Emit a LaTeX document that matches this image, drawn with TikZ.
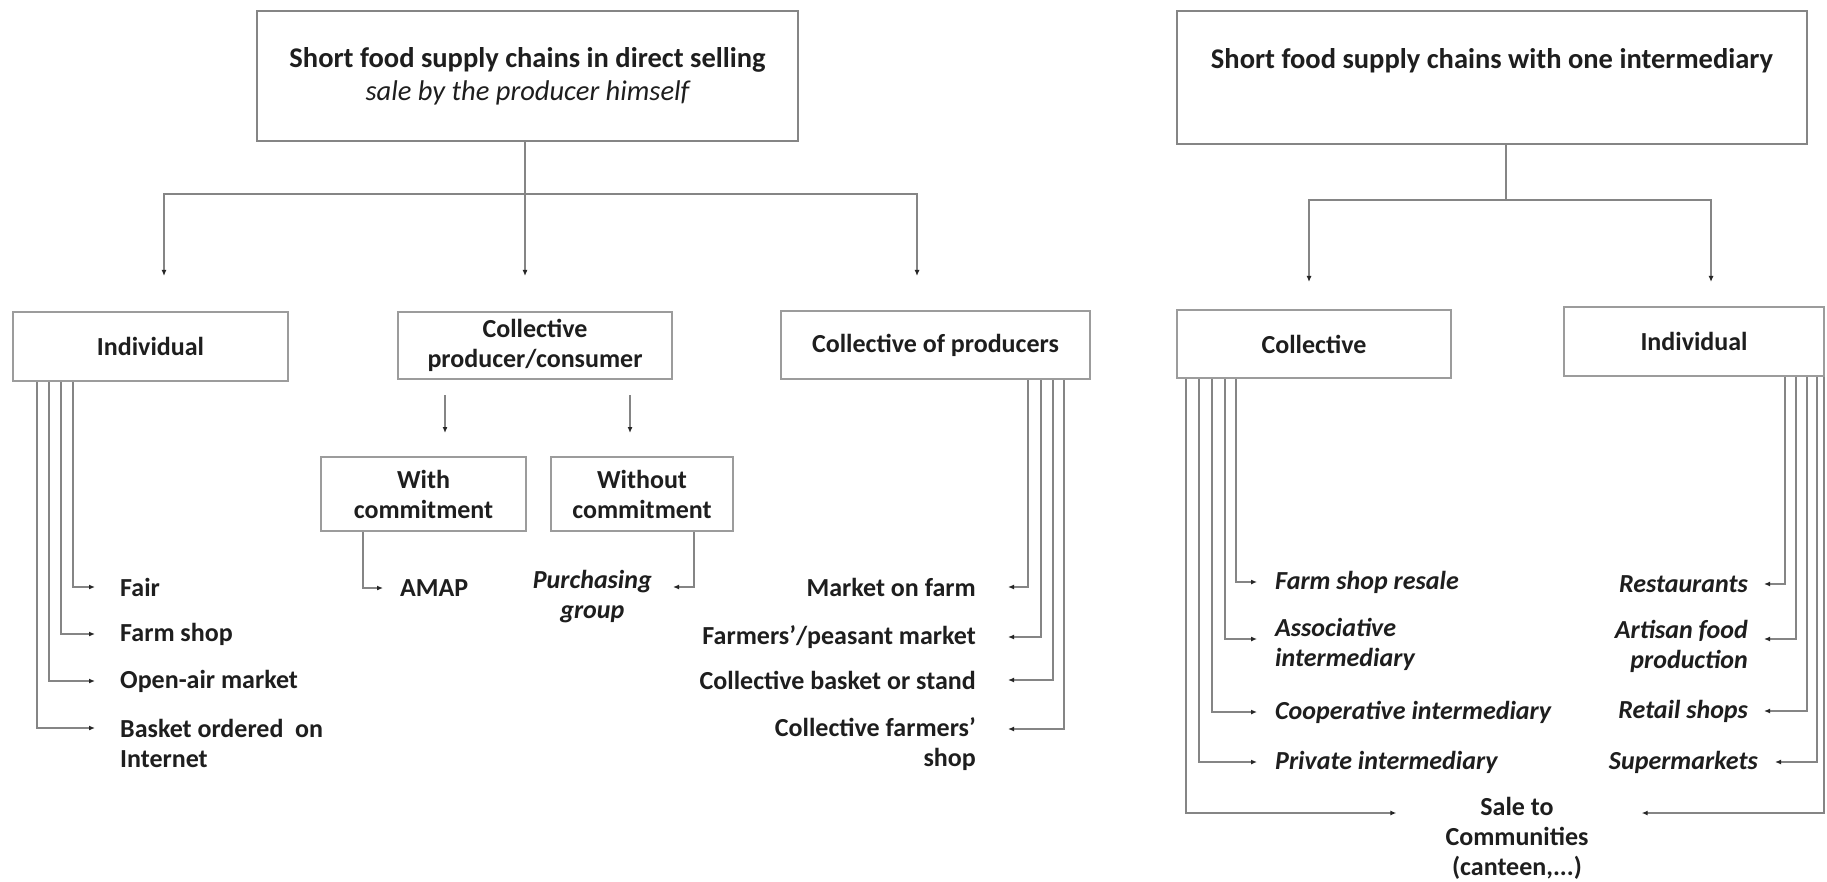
\documentclass[tikz,border=0pt]{standalone}
\usepackage{fontspec}
\setmainfont{Carlito}
\usetikzlibrary{arrows.meta}

\definecolor{ink}{HTML}{1E1E1E}
\definecolor{boxline}{HTML}{9C9C9C}
\definecolor{headline}{HTML}{858585}
\definecolor{wirecol}{HTML}{858585}

\tikzset{
  every node/.style={text=ink, font=\bfseries\fontsize{26}{30}\selectfont},
  box/.style={draw=boxline, line width=2.2pt, inner sep=0pt, align=center},
  headbox/.style={draw=headline, line width=2.4pt, inner sep=0pt, align=center,
    font=\bfseries\fontsize{28.5}{33}\selectfont},
  wire/.style={draw=wirecol, line width=2pt},
  arr/.style={wire, -{Latex[length=6pt,width=5pt,color=black!85]}},
  item/.style={inner sep=0pt},
  itemL/.style={item, anchor=west, align=left},
  itemR/.style={item, anchor=east, align=right},
  itlabel/.style={font=\bfseries\itshape\fontsize{26}{30}\selectfont},
}

\begin{document}
\begin{tikzpicture}[x=1pt,y=-1pt]
\fill[white] (0,0) rectangle (1827,882);
\useasboundingbox (0,0) rectangle (1827,882);

% ---------------- direct selling ----------------
\node[headbox, minimum width=541pt, minimum height=130pt] (T1) at (527.5,76)
  {Short food supply chains in direct selling\\{\mdseries\itshape sale by the producer himself}};

\node[box, minimum width=275pt, minimum height=69pt] (L1) at (150.5,346.5) {Individual};
\node[box, minimum width=274pt, minimum height=67pt] (L2) at (535,345.5) {Collective\\producer/consumer};
\node[box, minimum width=309pt, minimum height=68pt] (L3) at (935.5,345) {Collective of producers};
\node[box, minimum width=205pt, minimum height=74pt] (W1) at (423.5,494) {With\\commitment};
\node[box, minimum width=182pt, minimum height=74pt] (W2) at (642,494) {Without\\commitment};

\coordinate (j1) at (525,194);
\coordinate (d1) at (164,276);
\coordinate (d2) at (525,276);
\coordinate (d3) at (917,276);
\draw[wire] (T1.south -| j1) -- (j1);
\draw[arr] (j1) -| (d1);
\draw[arr] (j1) -- (d2);
\draw[arr] (j1) -| (d3);

\coordinate (s1) at (445,395); \coordinate (s1e) at (445,433);
\coordinate (s2) at (630,395); \coordinate (s2e) at (630,433);
\draw[arr] (s1) -- (s1e);
\draw[arr] (s2) -- (s2e);

% individual sales
\node[itemL] (fair)   at (120,587) {Fair};
\node[itemL] (fshop)  at (120,634) {Farm shop};
\node[itemL] (open)   at (120,681) {Open-air market};
\node[itemL] (basket) at (120,743) {Basket ordered\ \ on\\Internet};
\draw[arr] ([xshift=61pt]L1.south west) |- ([xshift=-25pt]fair.west);
\draw[arr] ([xshift=49pt]L1.south west) |- ([xshift=-25pt]fshop.west);
\draw[arr] ([xshift=37pt]L1.south west) |- ([xshift=-25pt]open.west);
\draw[arr] ([xshift=25pt]L1.south west) |- ([xshift=-25pt,yshift=15pt]basket.west);

% producer/consumer groups
\node[itemL] (amap) at (400,588) {AMAP};
\node[item, anchor=east, align=center, itlabel] (purch) at (652,597) {Purchasing\\group};
\draw[arr] ([xshift=-60.5pt]W1.south) |- ([xshift=-17pt]amap.west);
\draw[arr] ([xshift=52pt]W2.south) |- ([xshift=21pt,yshift=10pt]purch.east);

% collective of producers
\node[itemR] (mof) at (976,587) {Market on farm};
\node[itemR] (fpm) at (976,637) {Farmers'/peasant market};
\node[itemR] (cbs) at (976,680) {Collective basket or stand};
\node[itemR] (cfs) at (976,744) {Collective farmers'\\shop};
\draw[arr] ([xshift=-63pt]L3.south east) |- ([xshift=32pt]mof.east);
\draw[arr] ([xshift=-50pt]L3.south east) |- ([xshift=32pt]fpm.east);
\draw[arr] ([xshift=-38pt]L3.south east) |- ([xshift=32pt]cbs.east);
\draw[arr] ([xshift=-27pt]L3.south east) |- ([xshift=32pt,yshift=15pt]cfs.east);

% ---------------- one intermediary ----------------
\node[headbox, minimum width=630pt, minimum height=133pt] (T2) at (1492,77.5)
  {\raisebox{8.5pt}[0pt][0pt]{Short food supply chains with one intermediary}};

\node[box, minimum width=274pt, minimum height=68pt] (R1) at (1314,344) {Collective};
\node[box, minimum width=260pt, minimum height=69pt] (R2) at (1694,341.5) {Individual};

\coordinate (j2) at (1506,200);
\coordinate (e1) at (1309,282);
\coordinate (e2) at (1711,282);
\draw[wire] (T2.south -| j2) -- (j2);
\draw[arr] (j2) -| (e1);
\draw[arr] (j2) -| (e2);

% collective intermediaries
\node[itemL, itlabel] (fsr)   at (1275,582) {Farm shop resale};
\node[itemL, itlabel] (assoc) at (1275,644.5) {Associative\\intermediary};
\node[itemL, itlabel] (coop)  at (1275,712) {Cooperative intermediary};
\node[itemL, itlabel] (priv)  at (1275,762) {Private intermediary};
\node[item, align=center] (sale) at (1517,838) {Sale to\\Communities\\(canteen,...)};
\draw[arr] ([xshift=60pt]R1.south west) |- ([xshift=-18pt]fsr.west);
\draw[arr] ([xshift=49pt]R1.south west) |- ([xshift=-18pt,yshift=5.5pt]assoc.west);
\draw[arr] ([xshift=36pt]R1.south west) |- ([xshift=-18pt]coop.west);
\draw[arr] ([xshift=23pt]R1.south west) |- ([xshift=-18pt]priv.west);
\draw[arr] ([xshift=10pt]R1.south west) |- ([xshift=-49pt,yshift=25pt]sale.west);

% individual intermediaries
\node[itemR, itlabel] (rest)   at (1748,584) {Restaurants};
\node[itemR, itlabel] (art)    at (1748,646) {Artisan food\\production};
\node[itemR, itlabel] (retail) at (1748,711) {Retail shops};
\node[itemR, itlabel] (super)  at (1758,762) {Supermarkets};
\draw[arr] ([xshift=-40pt]R2.south east) |- ([xshift=16pt]rest.east);
\draw[arr] ([xshift=-29pt]R2.south east) |- ([xshift=16pt,yshift=7pt]art.east);
\draw[arr] ([xshift=-18pt]R2.south east) |- ([xshift=16pt]retail.east);
\draw[arr] ([xshift=-8pt]R2.south east) |- ([xshift=17pt]super.east);
\draw[arr] ([xshift=-1pt]R2.south east) |- ([xshift=53pt,yshift=25pt]sale.east);
\end{tikzpicture}
\end{document}
